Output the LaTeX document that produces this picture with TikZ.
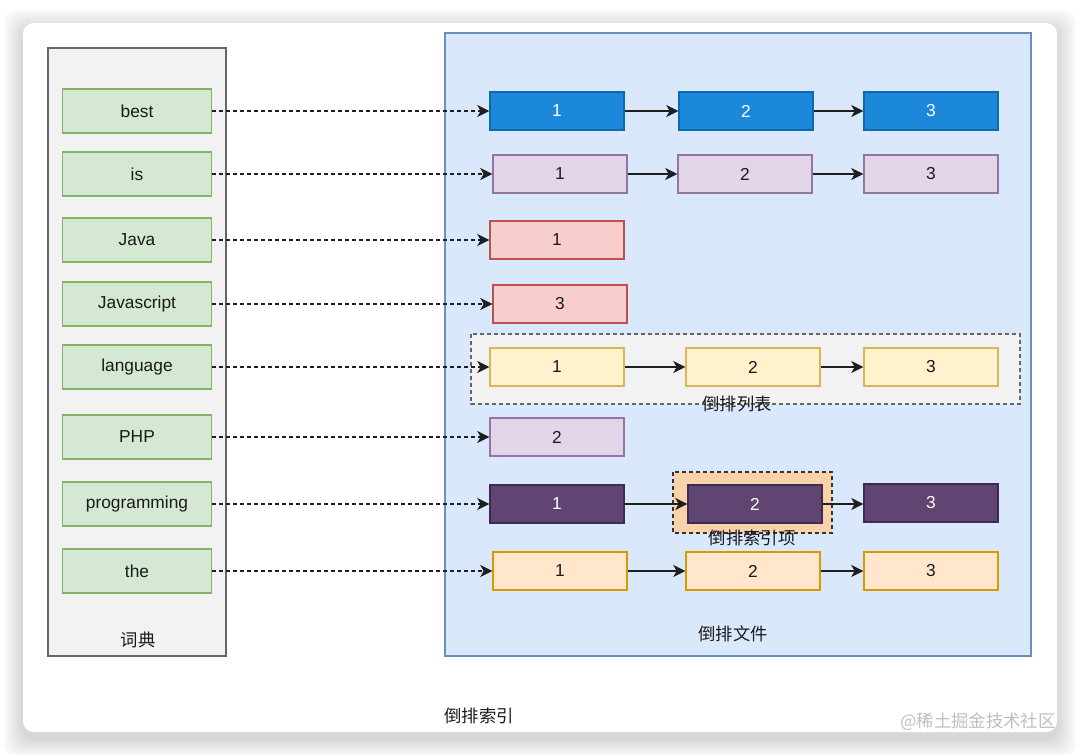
\documentclass[tikz,border=0pt]{standalone}
\usepackage{fontspec}
\setmainfont{Liberation Sans}
\newfontfamily\cjk{Noto Sans CJK SC}
\usetikzlibrary{arrows.meta}
\definecolor{gfill}{HTML}{D5E8D4}\definecolor{gdraw}{HTML}{82B366}
\definecolor{bfill}{HTML}{DAE8FC}\definecolor{bdraw}{HTML}{6C8EBF}
\definecolor{dfill}{HTML}{F2F2F2}\definecolor{ddraw}{HTML}{666666}
\definecolor{blfill}{HTML}{1B88DA}\definecolor{bldraw}{HTML}{0E68AD}
\definecolor{pfill}{HTML}{E1D5E7}\definecolor{pdraw}{HTML}{9673A6}
\definecolor{rfill}{HTML}{F8CECC}\definecolor{rdraw}{HTML}{B85450}
\definecolor{yfill}{HTML}{FFF2CC}\definecolor{ydraw}{HTML}{D6B656}
\definecolor{dpfill}{HTML}{604573}\definecolor{dpdraw}{HTML}{3F2A52}
\definecolor{ofill}{HTML}{FFE6CC}\definecolor{odraw}{HTML}{D79B00}
\definecolor{pkfill}{HTML}{FAD2AA}
\definecolor{txt}{HTML}{1A1A1A}
\begin{document}
\begin{tikzpicture}[x=0.75pt,y=-0.75pt,
  lbl/.style={font=\fontsize{13}{15}\selectfont, text=txt},
  cjklbl/.style={font=\cjk\fontsize{13}{15}\selectfont, text=txt},
  word/.style={draw=gdraw, fill=gfill, line width=1.1pt, minimum width=111.75pt, minimum height=33pt, inner sep=0pt, lbl},
  cell/.style={line width=1.1pt, minimum width=100.5pt, minimum height=28.5pt, inner sep=0pt, lbl},
  blue/.style={cell, draw=bldraw, fill=blfill, text=white},
  lilac/.style={cell, draw=pdraw, fill=pfill},
  rose/.style={cell, draw=rdraw, fill=rfill},
  cream/.style={cell, draw=ydraw, fill=yfill},
  plum/.style={cell, draw=dpdraw, fill=dpfill, text=white},
  peach/.style={cell, draw=odraw, fill=ofill},
  link/.style={-{Stealth[length=9pt,width=9pt,inset=2.5pt]}, line width=1.2pt, black!88},
  dlink/.style={link, dash pattern=on 3pt off 2.25pt},
]
\useasboundingbox (0,0) rectangle (1080,755);
\fill[white] (0,0) rectangle (1080,755);
\foreach \i in {1,...,20}
  \fill[black, opacity=0.008, rounded corners=10pt] (23-\i,23-\i+6) rectangle (1057+\i,732+\i+6);
\fill[white, rounded corners=8pt] (23,23) rectangle (1057,732);

% containers
\draw[draw=ddraw, fill=dfill, line width=1.1pt] (48,48) rectangle (226,656);
\node[cjklbl] (dictlbl) at (138,640) {词典};
\draw[draw=bdraw, fill=bfill, line width=1.1pt] (445,33) rectangle (1031,656);
\node[cjklbl] (filelbl) at (733,634) {倒排文件};
\node[cjklbl] (indexlbl) at (479,716) {倒排索引};
\node[font=\cjk\fontsize{13}{15}\selectfont, text=black!25] (wm) at (978,722) {@稀土掘金技术社区};

% group boxes
\draw[draw=ddraw, fill=dfill, line width=1pt, dash pattern=on 3pt off 2.25pt] (471,334) rectangle (1020,404);
\draw[draw=black!80, fill=pkfill, line width=1.1pt, dash pattern=on 3pt off 2.25pt] (673,472) rectangle (832,533);

% dictionary words
\node[word] (w1) at (137,111) {best};
\node[word] (w2) at (137,174) {is};
\node[word] (w3) at (137,240) {Java};
\node[word] (w4) at (137,304) {Javascript};
\node[word] (w5) at (137,367) {language};
\node[word] (w6) at (137,437) {PHP};
\node[word] (w7) at (137,504) {programming};
\node[word] (w8) at (137,571) {the};

% posting lists
\node[blue] (a1) at (557,111) {1};
\node[blue] (a2) at (746,111) {2};
\node[blue] (a3) at (931,111) {3};
\node[lilac] (b1) at (560,174) {1};
\node[lilac] (b2) at (745,174) {2};
\node[lilac] (b3) at (931,174) {3};
\node[rose] (c1) at (557,240) {1};
\node[rose] (d1) at (560,304) {3};
\node[cream] (e1) at (557,367) {1};
\node[cream] (e2) at (753,367) {2};
\node[cream] (e3) at (931,367) {3};
\node[lilac] (f1) at (557,437) {2};
\node[plum] (g1) at (557,504) {1};
\node[plum] (g2) at (755,504) {2};
\node[plum] (g3) at (931,503) {3};
\node[peach] (h1) at (560,571) {1};
\node[peach] (h2) at (753,571) {2};
\node[peach] (h3) at (931,571) {3};

\node[cjklbl] (listlbl) at (737,404) {倒排列表};
\node[cjklbl] (itemlbl) at (752,538) {倒排索引项};

% dictionary to lists
\draw[dlink] (w1) -- (a1);
\draw[dlink] (w2) -- (b1);
\draw[dlink] (w3) -- (c1);
\draw[dlink] (w4) -- (d1);
\draw[dlink] (w5) -- (e1);
\draw[dlink] (w6) -- (f1);
\draw[dlink] (w7) -- (g1);
\draw[dlink] (w8) -- (h1);

% list links
\draw[link] (a1) -- (a2);
\draw[link] (a2) -- (a3);
\draw[link] (b1) -- (b2);
\draw[link] (b2) -- (b3);
\draw[link] (e1) -- (e2);
\draw[link] (e2) -- (e3);
\draw[link] (g1) -- (g2);
\draw[link] (g2.east) -- (g3.west |- g2.east);
\draw[link] (h1) -- (h2);
\draw[link] (h2) -- (h3);
\end{tikzpicture}
\end{document}
